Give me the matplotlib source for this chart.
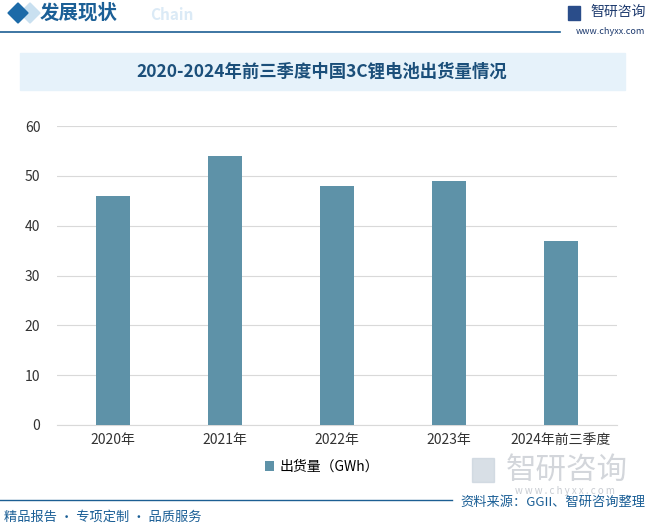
import matplotlib.pyplot as plt
from matplotlib.patches import Rectangle, Polygon

plt.rcParams['font.family'] = ['Noto Sans CJK SC', 'DejaVu Sans']

# data
categories = ["2020年", "2021年", "2022年", "2023年", "2024年前三季度"]
shipments = [46, 54, 48, 49, 37]
y_ticks = [0, 10, 20, 30, 40, 50, 60]

W, H = 647, 525
fig = plt.figure(figsize=(W / 100, H / 100), dpi=100)
fig.patch.set_facecolor("white")


def fx(px):
    return px / W


def fy(py):
    return 1 - py / H


# header
fig.patches.append(Polygon([[fx(8), fy(13)], [fx(18), fy(3)], [fx(28), fy(13)], [fx(18), fy(23)]],
                           closed=True, transform=fig.transFigure, color="#1c6aa8"))
fig.patches.append(Polygon([[fx(20), fy(13)], [fx(30), fy(3)], [fx(40), fy(13)], [fx(30), fy(23)]],
                           closed=True, transform=fig.transFigure, color="#c9e0f0", zorder=-1))
fig.text(fx(150), fy(15), "Chain", fontsize=11, color="#dbeaf6", fontweight="bold", va="center")
fig.text(fx(40), fy(13), "发展现状", fontsize=14, color="#1b5f96", fontweight="bold", va="center")
fig.add_artist(plt.Line2D([0, fx(560)], [fy(32), fy(32)], transform=fig.transFigure,
                          color="#1c5f93", lw=1.2))
fig.patches.append(Rectangle((fx(568), fy(20)), fx(12), 14 / H, transform=fig.transFigure,
                             color="#2a4d8a"))
fig.text(fx(590), fy(12), "智研咨询", fontsize=10, color="#1d3a6e", va="center")
fig.text(fx(645), fy(32), "www.chyxx.com", fontsize=6.5, color="#1d3a6e", va="center", ha="right")

# title box
fig.patches.append(Rectangle((fx(20), fy(90)), fx(605), 37 / H, transform=fig.transFigure,
                             color="#e6f2fa", zorder=0))
fig.text(fx(322), fy(72), "2020-2024年前三季度中国3C锂电池出货量情况", fontsize=12.5,
         fontweight="bold", color="#1b4f7a", ha="center", va="center")

# axes
ax = fig.add_axes([fx(57), fy(425), fx(617 - 57), (425 - 126) / H])
ax.set_facecolor("none")
x = range(len(categories))
ax.bar(x, shipments, width=0.31, color="#5e92a8", zorder=3, label="出货量（GWh）")
ax.set_xlim(-0.5, len(categories) - 0.5)
ax.set_ylim(0, 60)
ax.set_yticks(y_ticks)
ax.set_xticks(list(x))
ax.set_xticklabels(categories)
ax.grid(axis="y", color="#d9d9d9", lw=0.8, zorder=0)
for s in ["top", "right", "left"]:
    ax.spines[s].set_visible(False)
ax.spines["bottom"].set_color("#d9d9d9")
ax.tick_params(axis="both", length=0, labelsize=10, colors="#333333")
ax.tick_params(axis="y", pad=12)
ax.tick_params(axis="x", pad=6)

leg = ax.legend(loc="center", frameon=False, fontsize=10, handlelength=0.7, handleheight=0.7,
                handletextpad=0.4)
leg.set_bbox_to_anchor((fx(322), fy(467)), transform=fig.transFigure)

# watermark logo lower right
fig.patches.append(Rectangle((fx(472), fy(482)), fx(22), 24 / H, transform=fig.transFigure,
                             color="#c8d2dc", alpha=0.7))
fig.text(fx(567), fy(470), "智研咨询", fontsize=22, color="#c8ccd2", ha="center", va="center", alpha=0.8)
fig.text(fx(565), fy(491), "w w w . c h y x x . c o m", fontsize=7, color="#c8ccd2", ha="center", va="center")

# footer
fig.add_artist(plt.Line2D([0, fx(452)], [fy(500), fy(500)], transform=fig.transFigure,
                          color="#1c5f93", lw=1.0))
fig.text(fx(4), fy(517), "精品报告 · 专项定制 · 品质服务", fontsize=9.5, color="#1b5f96", va="center")
fig.text(fx(645), fy(502), "资料来源：GGII、智研咨询整理", fontsize=9.5, color="#1b5f96",
         va="center", ha="right")

fig.savefig("out.png", dpi=100)
